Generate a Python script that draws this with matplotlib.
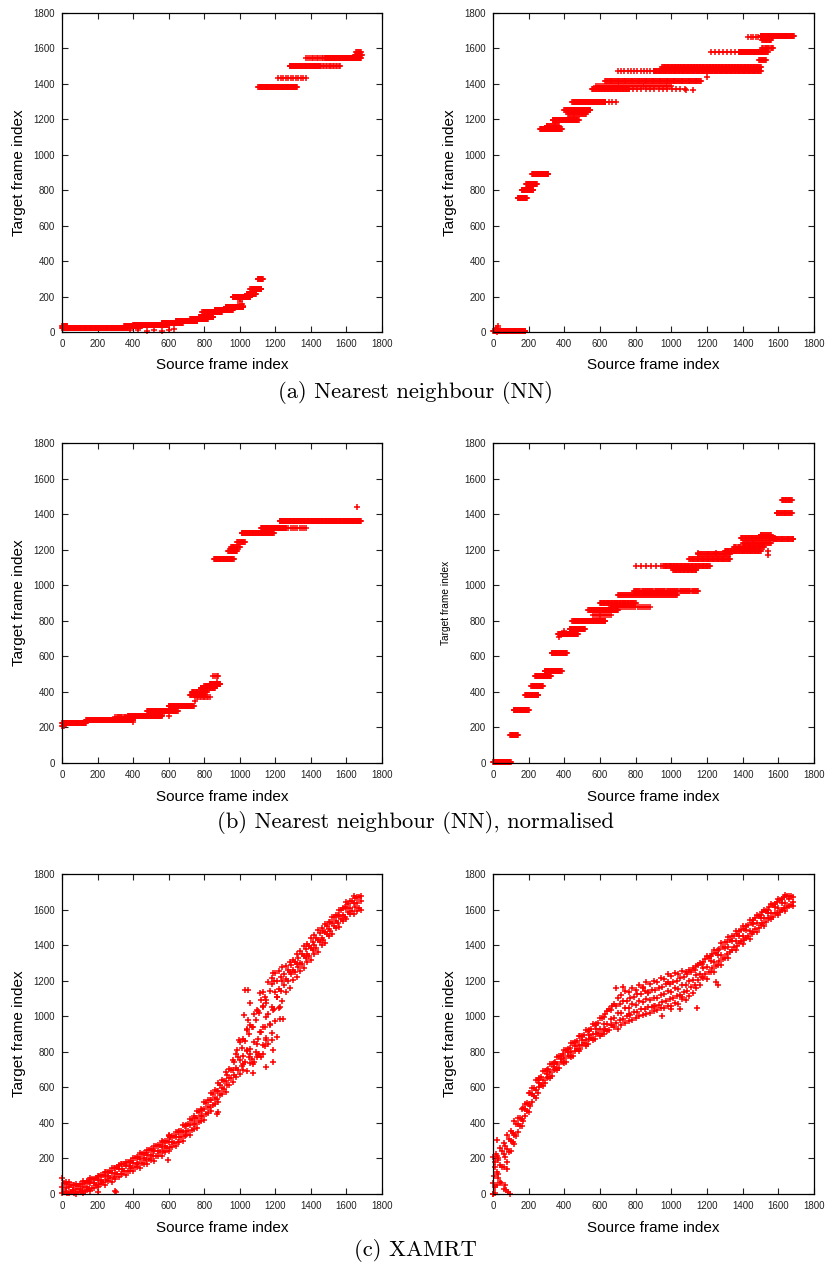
import numpy as np
import matplotlib
matplotlib.use('Agg')
import matplotlib.pyplot as plt

plt.rcParams['font.family'] = 'Liberation Sans'

# runs: source frames x0..x1 matched to target frame y, n matches in the run
# (a) nearest neighbour, left
a1_x0 = [0, 0, 350, 400, 560, 640, 720, 770, 790, 860, 920, 960, 1040, 1060, 1100,
         1105, 1215, 1280, 1450, 1375, 1480, 1650, 1655]
a1_x1 = [30, 370, 450, 600, 680, 760, 820, 850, 900, 960, 1020, 1060, 1090, 1120, 1130,
         1320, 1370, 1450, 1565, 1480, 1680, 1685, 1680]
a1_y = [35, 25, 32, 40, 50, 62, 75, 85, 112, 122, 140, 195, 215, 240, 300,
        1385, 1432, 1500, 1500, 1547, 1547, 1565, 1580]
a1_n = [10, 120, 30, 60, 40, 40, 35, 30, 35, 35, 35, 35, 20, 20, 12,
        70, 12, 55, 15, 12, 70, 10, 6]
a1_px = [380, 430, 480, 520, 560, 600, 630, 800, 990, 1010, 1020, 1000, 1120, 820, 1080]
a1_py = [10, 12, 8, 10, 5, 10, 15, 80, 150, 160, 145, 175, 240, 112, 225]

# (a) nearest neighbour, right
a2_x0 = [0, 140, 160, 185, 220, 265, 300, 335, 400, 420, 445, 630, 555, 760, 630, 580,
         700, 900, 950, 1490, 1225, 1380, 1510, 1430, 1500, 1510]
a2_x1 = [180, 190, 225, 245, 310, 385, 370, 480, 545, 520, 630, 690, 760, 1075, 1165, 1000,
         900, 1500, 1500, 1530, 1380, 1540, 1570, 1500, 1686, 1560]
a2_y = [5, 755, 800, 836, 890, 1145, 1160, 1195, 1250, 1230, 1295, 1295, 1370, 1370, 1414, 1390,
        1470, 1472, 1495, 1535, 1582, 1582, 1600, 1665, 1668, 1645]
a2_n = [60, 18, 22, 22, 30, 40, 15, 45, 45, 20, 55, 4, 50, 14, 110, 40,
        12, 150, 130, 8, 8, 45, 10, 6, 65, 12]
a2_px = [28, 15, 20, 40, 1200, 1080, 1120]
a2_py = [35, 20, 0, 10, 1440, 1367, 1367]

# (b) nearest neighbour normalised, left
b1_x0 = [0, 0, 135, 300, 370, 480, 600, 720, 730, 760, 780, 800, 830, 850,
         855, 935, 950, 985, 1010, 1120, 1260, 1225]
b1_x1 = [135, 10, 400, 360, 560, 650, 740, 800, 815, 830, 860, 870, 890, 880,
         965, 985, 1000, 1030, 1190, 1260, 1375, 1680]
b1_y = [225, 210, 240, 258, 265, 292, 322, 385, 400, 370, 420, 435, 443, 490,
        1148, 1195, 1215, 1245, 1292, 1322, 1322, 1360]
b1_n = [45, 3, 80, 10, 60, 55, 45, 20, 20, 10, 20, 20, 20, 4,
        35, 15, 12, 10, 55, 45, 10, 140]
b1_px = [750, 870, 600, 560, 400, 1660]
b1_py = [350, 455, 265, 270, 230, 1440]

# (b) nearest neighbour normalised, right
b2_x0 = [0, 95, 115, 180, 215, 235, 290, 330, 365, 430, 445, 535, 560, 600, 660, 700, 790,
         800, 955, 1010, 1100, 1150, 1300, 1350, 1390, 1400, 1500, 1570, 1590, 1620]
b2_x1 = [100, 140, 200, 255, 280, 325, 385, 415, 475, 515, 630, 700, 660, 800, 880, 1030, 1150,
         1000, 1215, 1140, 1330, 1330, 1500, 1520, 1580, 1560, 1560, 1685, 1675, 1675]
b2_y = [5, 155, 300, 382, 432, 488, 515, 618, 728, 755, 800, 862, 830, 900, 880, 943, 966,
        1110, 1110, 1088, 1150, 1175, 1190, 1215, 1265, 1237, 1285, 1260, 1406, 1478]
b2_n = [35, 15, 28, 25, 20, 28, 30, 28, 35, 28, 55, 50, 10, 50, 20, 60, 60,
        8, 60, 30, 50, 35, 50, 25, 45, 30, 12, 25, 18, 14]
b2_px = [1540, 1540, 370, 1150, 1250, 400, 600]
b2_py = [1170, 1190, 710, 1180, 1180, 745, 830]

# (c) XAMRT: matched target frames sampled along the source axis
xamrt_src = [0, 20, 40, 60, 80, 100, 120, 140, 160, 180, 200, 220, 240, 260, 280, 300,
             320, 340, 360, 380, 400, 420, 440, 460, 480, 500, 520, 540, 560, 580, 600,
             620, 640, 660, 680, 700, 720, 740, 760, 780, 800, 820, 840, 860, 880, 900,
             920, 940, 960, 980, 1000, 1020, 1040, 1060, 1080, 1100, 1120, 1140, 1160,
             1180, 1200, 1220, 1240, 1260, 1280, 1300, 1320, 1340, 1360, 1380, 1400,
             1420, 1440, 1460, 1480, 1500, 1520, 1540, 1560, 1580, 1600, 1620, 1640,
             1660, 1680]
xamrt_src2 = [10, 30, 50, 70, 90, 110, 130, 150, 170, 190, 210, 230, 250, 270, 290, 310,
              330, 350, 370, 390, 410, 430, 450, 470, 490, 510, 530, 550, 570, 590, 610,
              630, 650, 670, 690, 710, 730, 750, 770, 790, 810, 830, 850, 870, 890, 910,
              930, 950, 970, 990, 1010, 1030, 1050, 1070, 1090, 1110, 1130, 1150, 1170,
              1190, 1210, 1230, 1250, 1270, 1290, 1310, 1330, 1350, 1370, 1390, 1410,
              1430, 1450, 1470, 1490, 1510, 1530, 1550, 1570, 1590, 1610, 1630, 1650, 1670]

c1_lo = [5, 12, 3, 15, 2, 10, 8, 22, 18, 35, 38, 55, 52, 72, 68, 86, 95, 112, 108, 128,
         130, 150, 148, 170, 168, 190, 188, 214, 212, 236, 240, 264, 270, 294, 300, 330,
         334, 366, 374, 410, 418, 456, 468, 506, 518, 560, 574, 612, 628, 660, 675, 700,
         690, 735, 745, 780, 770, 830, 845, 905, 975, 1045, 1085, 1135, 1160, 1205, 1220,
         1255, 1270, 1306, 1314, 1350, 1364, 1400, 1414, 1450, 1460, 1494, 1504, 1536,
         1545, 1574, 1576, 1594, 1598]
c1_mid = [40, 32, 38, 22, 30, 26, 41, 40, 60, 62, 78, 80, 99, 101, 120, 118, 140, 139,
          156, 158, 176, 175, 197, 200, 221, 222, 240, 243, 266, 268, 290, 294, 318, 322,
          350, 356, 386, 394, 428, 440, 476, 488, 526, 540, 578, 594, 636, 652, 697, 708,
          752, 775, 805, 815, 855, 872, 910, 940, 1010, 1050, 1138, 1152, 1196, 1212,
          1251, 1262, 1296, 1302, 1341, 1352, 1386, 1398, 1431, 1442, 1475, 1488, 1526,
          1533, 1566, 1572, 1606, 1608, 1636, 1638, 1646]
c1_hi = [88, 70, 68, 50, 58, 56, 74, 72, 88, 86, 104, 106, 124, 126, 144, 146, 164, 166,
         180, 182, 204, 206, 230, 232, 250, 252, 270, 276, 296, 296, 326, 326, 350, 356,
         386, 390, 420, 436, 466, 480, 516, 530, 566, 584, 626, 644, 686, 704, 756, 790,
         856, 870, 928, 950, 1010, 1030, 1090, 1110, 1190, 1215, 1245, 1255, 1275, 1280,
         1306, 1316, 1350, 1366, 1396, 1406, 1440, 1456, 1486, 1496, 1520, 1530, 1560,
         1570, 1600, 1610, 1640, 1650, 1674, 1672, 1676]
c1_q1 = [12, 8, 14, 6, 12, 15, 18, 30, 36, 52, 55, 70, 76, 92, 96, 110, 115, 130, 131, 146,
         150, 168, 172, 190, 196, 212, 216, 236, 240, 260, 266, 285, 294, 318, 328, 352,
         362, 392, 405, 438, 452, 488, 502, 536, 556, 592, 612, 650, 668, 700, 720, 740,
         770, 760, 800, 790, 840, 880, 950, 1040, 1110, 1140, 1178, 1200, 1236, 1250,
         1278, 1292, 1326, 1340, 1370, 1386, 1416, 1430, 1460, 1478, 1508, 1522, 1548,
         1560, 1584, 1592, 1612, 1610]
c1_q3 = [62, 58, 48, 52, 45, 54, 60, 66, 82, 88, 104, 108, 124, 130, 146, 150, 166, 168,
         182, 186, 202, 206, 224, 230, 246, 250, 268, 274, 292, 298, 318, 326, 346, 356,
         382, 392, 418, 430, 462, 474, 510, 526, 560, 578, 614, 636, 672, 700, 740, 770,
         820, 860, 900, 940, 980, 1020, 1060, 1090, 1140, 1200, 1200, 1220, 1240, 1262,
         1286, 1306, 1330, 1348, 1376, 1394, 1420, 1438, 1466, 1482, 1508, 1528, 1556,
         1572, 1596, 1612, 1634, 1648, 1664, 1668]
c1_px = [1029, 1048, 1057, 1025, 1048, 1038, 1076, 1113, 1132, 1150, 1132, 1095, 1150,
         1169, 1132, 1113, 1095, 1150, 1179, 1188, 1132, 1095, 1076, 1076, 1150, 1188,
         1038, 993, 983, 1020, 1057, 1207, 1188, 1179, 1207, 1226, 1244, 1226, 1188,
         299, 305, 599, 600, 610, 870, 880, 150, 200]
c1_py = [1150, 1150, 1072, 1006, 978, 921, 940, 1128, 1137, 1072, 1053, 1034, 997,
         959, 940, 912, 846, 865, 865, 809, 790, 771, 734, 678, 715, 743,
         809, 865, 809, 734, 790, 884, 1241, 1184, 1109, 1053, 987, 987, 1034,
         17, 12, 190, 330, 320, 450, 460, 80, 10]

c2_lo = [0, 50, 70, 150, 180, 240, 280, 350, 380, 440, 460, 520, 540, 600, 610, 650, 655,
         700, 700, 740, 735, 775, 770, 805, 805, 840, 835, 870, 865, 900, 890, 925, 915,
         950, 940, 930, 950, 960, 975, 980, 990, 1000, 1005, 1015, 1020, 1030, 1035, 1045,
         1045, 1060, 1055, 1075, 1070, 1095, 1090, 1115, 1130, 1160, 1175, 1215, 1210,
         1250, 1250, 1290, 1290, 1330, 1330, 1370, 1370, 1410, 1405, 1440, 1435, 1475,
         1475, 1515, 1510, 1550, 1545, 1580, 1570, 1600, 1590, 1620, 1620]
c2_mid = [60, 126, 164, 226, 254, 296, 334, 392, 424, 476, 504, 562, 584, 626, 644, 676,
          684, 716, 729, 761, 764, 796, 799, 831, 839, 866, 869, 896, 899, 926, 929, 956,
          959, 986, 989, 1016, 1019, 1046, 1044, 1066, 1064, 1088, 1078, 1098, 1090, 1105,
          1100, 1120, 1125, 1140, 1135, 1160, 1155, 1178, 1175, 1200, 1205, 1230, 1240,
          1270, 1277, 1308, 1307, 1343, 1347, 1383, 1387, 1423, 1422, 1453, 1452, 1483,
          1482, 1518, 1522, 1553, 1552, 1583, 1582, 1613, 1607, 1638, 1637, 1662, 1645]
c2_hi = [210, 215, 260, 285, 330, 355, 410, 425, 480, 505, 570, 595, 640, 655, 690, 695,
         730, 735, 770, 775, 810, 815, 850, 855, 890, 890, 920, 920, 955, 955, 990, 995,
         1030, 1035, 1070, 1100, 1120, 1140, 1135, 1160, 1150, 1175, 1165, 1190, 1180, 1200,
         1195, 1215, 1210, 1235, 1225, 1245, 1240, 1255, 1250, 1260, 1270, 1285, 1300,
         1305, 1340, 1340, 1375, 1375, 1410, 1415, 1445, 1450, 1480, 1480, 1510, 1510,
         1540, 1540, 1570, 1570, 1600, 1600, 1630, 1630, 1660, 1660, 1680, 1675, 1670]
c2_q1 = [40, 110, 150, 210, 236, 290, 325, 385, 412, 468, 494, 550, 566, 612, 622, 660,
         664, 702, 708, 742, 744, 778, 778, 814, 816, 848, 846, 876, 874, 904, 902, 930,
         924, 950, 960, 978, 982, 1000, 1005, 1022, 1025, 1040, 1040, 1052, 1050, 1060,
         1062, 1080, 1085, 1095, 1100, 1115, 1120, 1135, 1140, 1165, 1176, 1205, 1218,
         1240, 1250, 1272, 1280, 1310, 1322, 1352, 1362, 1392, 1396, 1422, 1426, 1452,
         1460, 1490, 1496, 1522, 1528, 1552, 1558, 1580, 1584, 1606, 1612, 1626]
c2_q3 = [150, 190, 240, 270, 310, 345, 395, 430, 482, 512, 566, 596, 640, 656, 692, 702,
         732, 744, 778, 786, 812, 824, 848, 860, 886, 894, 918, 926, 950, 962, 990, 1010,
         1040, 1060, 1060, 1070, 1085, 1088, 1105, 1108, 1125, 1124, 1140, 1136, 1150,
         1145, 1160, 1165, 1180, 1182, 1195, 1200, 1215, 1218, 1235, 1250, 1262, 1290,
         1292, 1320, 1325, 1350, 1356, 1380, 1390, 1416, 1428, 1452, 1460, 1484, 1490,
         1512, 1526, 1550, 1562, 1584, 1594, 1614, 1626, 1644, 1652, 1668, 1674, 1676]
c2_px = [22, 15, 10, 30, 5, 30, 47, 60, 75, 85, 94, 0, 10, 65, 80,
         1145, 730, 690, 1000, 1050, 620, 1250, 1260, 760, 840, 900, 980, 1060, 870, 950]
c2_py = [302, 223, 180, 200, 100, 90, 60, 30, 20, 10, 0, 0, 5, 50, 140,
         1044, 1165, 1160, 1040, 1040, 900, 1190, 1175, 1010, 1160, 1060, 1190, 1110, 1130, 1000]


def run_points(x0, x1, y, n, px, py):
    xs, ys = list(px), list(py)
    for a, b, c, k in zip(x0, x1, y, n):
        xs.extend(np.linspace(a, b, k))
        ys.extend([c] * k)
    return xs, ys


def band_points(groups, px, py):
    xs, ys = list(px), list(py)
    for gx, gy in groups:
        assert len(gx) == len(gy)
        xs.extend(gx)
        ys.extend(gy)
    return xs, ys


panels = [
    run_points(a1_x0, a1_x1, a1_y, a1_n, a1_px, a1_py),
    run_points(a2_x0, a2_x1, a2_y, a2_n, a2_px, a2_py),
    run_points(b1_x0, b1_x1, b1_y, b1_n, b1_px, b1_py),
    run_points(b2_x0, b2_x1, b2_y, b2_n, b2_px, b2_py),
    band_points([(xamrt_src, c1_lo), (xamrt_src, c1_mid), (xamrt_src, c1_hi),
                 (xamrt_src2, c1_q1), (xamrt_src2, c1_q3)], c1_px, c1_py),
    band_points([(xamrt_src, c2_lo), (xamrt_src, c2_mid), (xamrt_src, c2_hi),
                 (xamrt_src2, c2_q1), (xamrt_src2, c2_q3)], c2_px, c2_py),
]
captions = ['(a) Nearest neighbour (NN)',
            '(b) Nearest neighbour (NN), normalised',
            '(c) XAMRT']

W, H = 827, 1269
fig = plt.figure(figsize=(W / 100, H / 100), dpi=100)
rows = [(13, 332), (443, 763), (874, 1194)]
cols = [(62, 382), (493, 814)]
cap_y = [393, 822, 1251]

for i, (xs, ys) in enumerate(panels):
    r, c = divmod(i, 2)
    top, bot = rows[r]
    left, right = cols[c]
    ax = fig.add_axes([left / W, 1 - bot / H, (right - left) / W, (bot - top) / H])
    ax.plot(xs, ys, linestyle='none', marker='+', color='#ff0000',
            markersize=4.7, markeredgewidth=1.1, clip_on=False)
    ax.set_xlim(0, 1800)
    ax.set_ylim(0, 1800)
    ax.set_xticks(range(0, 1801, 200))
    ax.set_yticks(range(0, 1801, 200))
    ax.tick_params(direction='in', top=True, right=True, length=4, width=0.8,
                   labelsize=7, pad=5, colors='#222222')
    for s in ax.spines.values():
        s.set_linewidth(0.9)
        s.set_color('black')
    ax.set_xlabel('Source frame index', fontsize=11)
    ax.xaxis.set_label_coords(0.5, -0.083)
    if i == 3:
        ax.set_ylabel('Target frame index', fontsize=7.3)
        ax.yaxis.set_label_coords(-0.13, 0.5)
    else:
        ax.set_ylabel('Target frame index', fontsize=11)
        ax.yaxis.set_label_coords(-0.112, 0.5)

for cy, txt in zip(cap_y, captions):
    fig.text(415 / W, 1 - cy / H, txt, family='cmr10', fontsize=16.3,
             ha='center', va='center')

fig.savefig('out.png', dpi=100)
